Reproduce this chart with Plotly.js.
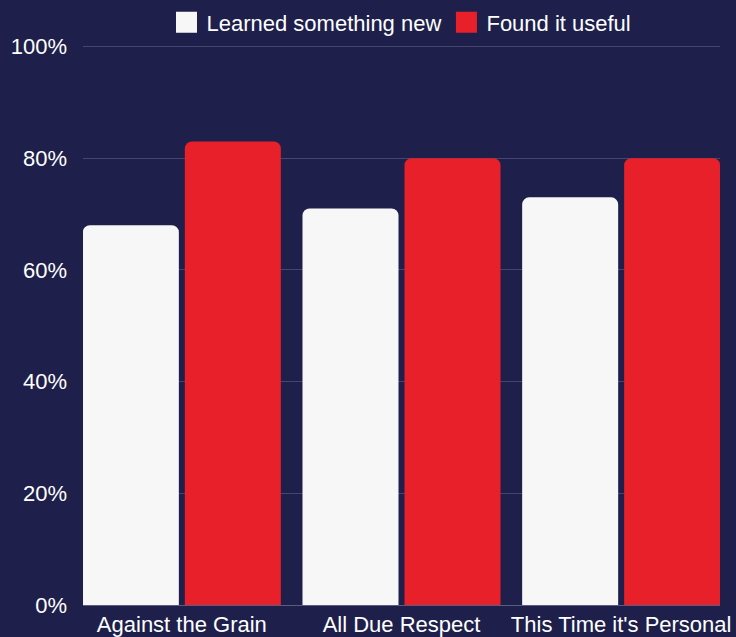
<!DOCTYPE html>
<html>
<head>
<meta charset="utf-8">
<script src="https://cdn.plot.ly/plotly-3.0.1.min.js"></script>
<style>html,body{margin:0;padding:0;background:#1e1f4b;}#chart{width:736px;height:637px;}</style>
</head>
<body>
<div id="chart"></div>
<script>
const categories = ["Against the Grain", "All Due Respect", "This Time it's Personal"];
const learnedNew = [0.68, 0.71, 0.73];
const foundUseful = [0.83, 0.80, 0.80];
const seriesNames = ["Learned something new", "Found it useful"];
const seriesColors = ["#f7f7f7", "#e8202a"];
const yTickVals = [0, 0.2, 0.4, 0.6, 0.8, 1.0];
const yTickText = ["0%", "20%", "40%", "60%", "80%", "100%"];

const seriesValues = [learnedNew, foundUseful];
const traces = [];
seriesValues.forEach((vals, i) => {
  traces.push({type: "bar", name: seriesNames[i], x: categories, y: vals, showlegend: false,
    marker: {color: seriesColors[i], line: {width: 0}}, hoverinfo: "none"});
});
// legend-only entries with larger square swatches
seriesValues.forEach((vals, i) => {
  traces.push({type: "scatter", mode: "markers", name: seriesNames[i], x: [categories[0]], y: [null],
    marker: {symbol: "square", size: 16, color: seriesColors[i], line: {width: 5, color: seriesColors[i]}},
    hoverinfo: "none", showlegend: true});
});

const layout = {
  width: 736, height: 637,
  paper_bgcolor: "#1e1f4b", plot_bgcolor: "#1e1f4b",
  font: {family: "Liberation Sans, Arial, sans-serif", size: 22, color: "#ffffff"},
  margin: {l: 83, r: 16, t: 41.4, b: 32, pad: 0, autoexpand: false},
  barmode: "group", bargap: 0.0713, bargroupgap: 0.0588, barcornerradius: 7,
  showlegend: true,
  legend: {orientation: "h", x: 0.5, xanchor: "center", y: 1.033, yanchor: "middle",
           font: {size: 22, color: "#ffffff"}, bgcolor: "rgba(0,0,0,0)",
           itemsizing: "trace", traceorder: "normal", itemwidth: 30},
  xaxis: {range: [-0.45, 2.45], showgrid: false, zeroline: false, showline: false,
          ticks: "", ticklabelstandoff: 4, tickfont: {size: 22, color: "#ffffff"}, fixedrange: true, automargin: false},
  yaxis: {range: [0, 1.01], tickvals: yTickVals, ticktext: yTickText, showgrid: true,
          gridcolor: "#45466f", gridwidth: 1, zeroline: true, zerolinecolor: "#5a5b80", zerolinewidth: 1,
          showline: false, ticks: "", ticklabelstandoff: 15, tickfont: {size: 22, color: "#ffffff"},
          fixedrange: true, automargin: false}
};
Plotly.newPlot("chart", traces, layout, {displayModeBar: false, staticPlot: true});
</script>
</body>
</html>
